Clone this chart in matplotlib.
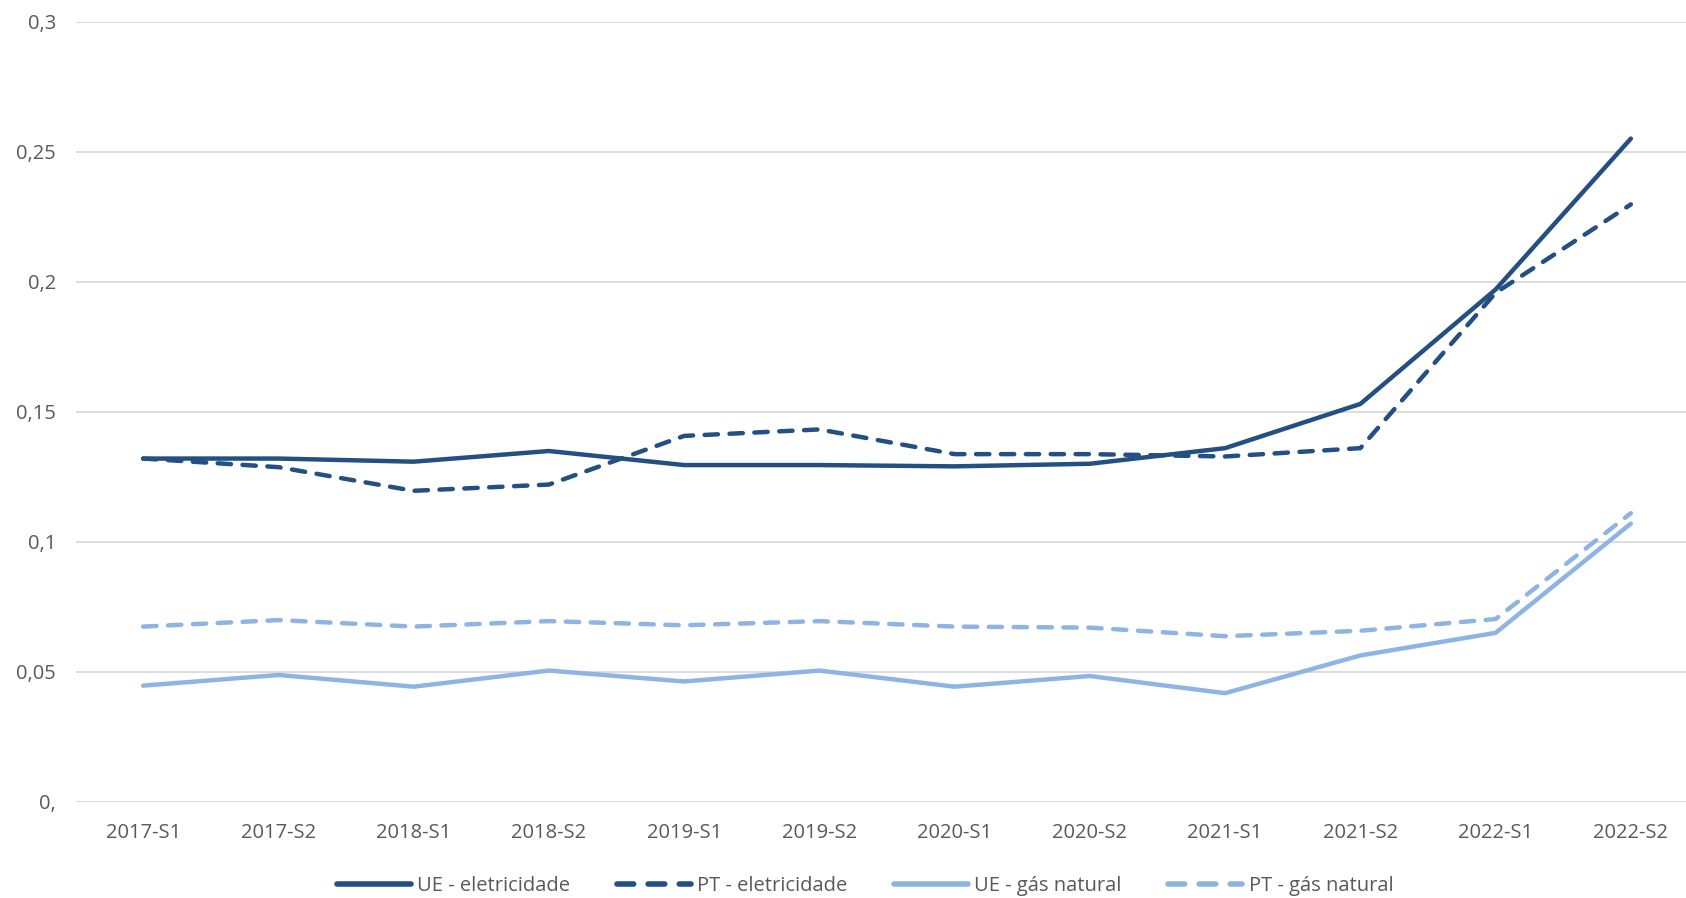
import matplotlib
matplotlib.use("Agg")
import matplotlib.pyplot as plt
from matplotlib.ticker import FixedLocator, FixedFormatter

# semesters
periods = ['2017-S1', '2017-S2', '2018-S1', '2018-S2', '2019-S1', '2019-S2',
           '2020-S1', '2020-S2', '2021-S1', '2021-S2', '2022-S1', '2022-S2']

ue_elec = [0.132, 0.132, 0.1308, 0.1349, 0.1295, 0.1295, 0.129, 0.130, 0.136, 0.153, 0.197, 0.255]
pt_elec = [0.132, 0.1287, 0.1196, 0.122, 0.1407, 0.1432, 0.1337, 0.1337, 0.1328, 0.136, 0.1957, 0.2297]
ue_gas = [0.0447, 0.0488, 0.0443, 0.0505, 0.0463, 0.0505, 0.0443, 0.0484, 0.0418, 0.0563, 0.065, 0.107]
pt_gas = [0.0674, 0.0699, 0.0674, 0.0695, 0.0679, 0.0695, 0.0674, 0.067, 0.0637, 0.0658, 0.0703, 0.111]

y_ticks = [0, 0.05, 0.1, 0.15, 0.2, 0.25, 0.3]
y_labels = ['0,', '0,05', '0,1', '0,15', '0,2', '0,25', '0,3']

dark = '#234F82'
light = '#8EB4E3'

plt.rcParams['font.family'] = ['Open Sans', 'DejaVu Sans']

fig = plt.figure(figsize=(16.86, 8.98), dpi=100)
ax = fig.add_axes([0.0448, 0.107, 0.9626, 0.869])

x = list(range(len(periods)))
lw = 3.2
dash = (3.0, 2.6)
ax.plot(x, ue_elec, color=dark, lw=lw, solid_capstyle='round', label='UE - eletricidade')
ax.plot(x, pt_elec, color=dark, lw=lw, dashes=dash, dash_capstyle='round', label='PT - eletricidade')
ax.plot(x, ue_gas, color=light, lw=lw, solid_capstyle='round', label='UE - gás natural')
ax.plot(x, pt_gas, color=light, lw=lw, dashes=dash, dash_capstyle='round', label='PT - gás natural')

ax.set_xlim(-0.5, 11.5)
ax.set_ylim(0, 0.3)
ax.set_xticks(x)
ax.set_xticklabels(periods)
ax.yaxis.set_major_locator(FixedLocator(y_ticks))
ax.yaxis.set_major_formatter(FixedFormatter(y_labels))
ax.tick_params(axis='both', length=0, labelsize=14.5, colors='#595959')
ax.tick_params(axis='x', pad=15)
ax.tick_params(axis='y', pad=14)
ax.grid(axis='y', color='#D9D9D9', lw=1.3)
ax.set_axisbelow(True)
for s in ax.spines.values():
    s.set_visible(False)

leg = fig.legend(loc='lower center', ncol=4, frameon=False, fontsize=14.5,
                 bbox_to_anchor=(0.513, -0.018), handlelength=3.7, columnspacing=2.3,
                 handletextpad=0.3)
for t in leg.get_texts():
    t.set_color('#595959')
for h in leg.get_lines():
    h.set_linewidth(4.0)

fig.savefig('out.png', dpi=100)
